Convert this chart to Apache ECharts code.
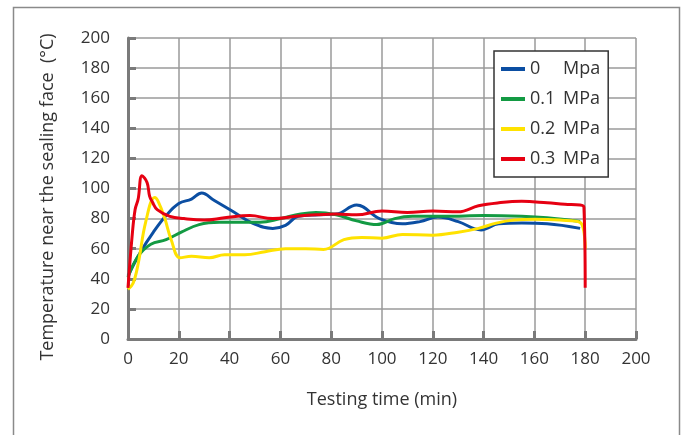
<!DOCTYPE html>
<html>
<head>
<meta charset="utf-8">
<script src="https://cdn.jsdelivr.net/npm/echarts@6/dist/echarts.min.js"></script>
<style>
  html, body { margin: 0; padding: 0; background: #fff; }
  #chart { width: 686px; height: 435px; }
</style>
</head>
<body>
<div id="chart"></div>
<script>
// Testing time (min) and temperature (°C) for each sealing pressure
const names = ['0 Mpa', '0.1 MPa', '0.2 MPa', '0.3 MPa'];
const colors = ['#0b4ea2', '#139a43', '#ffe200', '#e60012'];

const time0 = [0, 5, 10, 15, 20, 25, 29, 34, 41, 49, 57, 62, 67, 75, 82, 90, 99, 108, 115, 122, 130, 139, 146, 155, 165, 178];
const temp0 = [42, 58, 71, 82, 90, 93, 97, 92, 85, 77, 73.5, 75.5, 81.5, 82.5, 83, 89, 80, 76.5, 78, 81, 78, 72.5, 76.5, 77, 76.5, 73.5];

const time1 = [0, 4, 9, 15, 21, 28, 36, 44, 52, 60, 68, 74, 82, 90, 98, 105, 112, 125, 140, 155, 165, 178];
const temp1 = [41, 55, 63, 66, 71, 76, 77.5, 77.5, 77.5, 80, 83, 84, 82.5, 78.5, 76, 80, 81.5, 81.5, 82, 81.5, 80.5, 78];

const time2 = [0, 2, 4, 7, 10.5, 12, 14.5, 17, 20.5, 25, 32, 38, 46, 54, 62, 70, 77, 85, 92, 100, 108, 120, 130, 138, 145, 152, 160, 170, 178, 180];
const temp2 = [33, 37, 50, 78, 94, 91, 80, 66, 54, 55, 54, 56, 56, 58, 60, 60, 59.5, 66, 67.5, 67, 69.5, 69, 71, 73.5, 77, 79, 79.5, 79, 77.5, 60];

const time3 = [0, 1.6, 2.8, 4, 5.5, 7.5, 8.5, 9.6, 11.5, 16.5, 22, 30, 38, 48, 57, 66, 74, 82, 90, 100, 110, 120, 130, 138, 146, 155, 165, 172, 178, 179.5, 180];
const temp3 = [34, 68, 86, 93, 108.5, 104, 95, 91, 86, 81.5, 80, 79, 80.5, 82, 80, 81.5, 82.5, 83, 82.5, 85, 84, 85, 84.5, 88.5, 90.5, 91.5, 90.5, 89.5, 89, 87.5, 34];

const times = [time0, time1, time2, time3];
const temps = [temp0, temp1, temp2, temp3];

const xTicks = [0, 200, 20];   // min, max, interval
const yTicks = [0, 200, 20];

const zip = (xs, ys) => xs.map((x, i) => [x, ys[i]]);

const chart = echarts.init(document.getElementById('chart'), null, { renderer: 'canvas' });

const labelFont = { fontFamily: 'Open Sans', fontSize: 17, color: '#333' };

chart.setOption({
  animation: false,
  backgroundColor: '#fff',
  graphic: [{
    type: 'rect',
    shape: { x: 13.5, y: 7.5, width: 666, height: 440 },
    style: { fill: 'none', stroke: '#8a8a8a', lineWidth: 1.5 },
    z: -10
  }],
  grid: { left: 128, right: 50, top: 38, bottom: 96, containLabel: false },
  legend: {
    orient: 'vertical',
    left: 494,
    top: 51,
    padding: [8, 8, 8, 7],
    itemGap: 10,
    itemWidth: 24,
    itemHeight: 4,
    icon: 'rect',
    backgroundColor: '#fff',
    borderColor: '#333',
    borderWidth: 1.5,
    borderRadius: 0,
    data: names,
    formatter: n => {
      const parts = n.split(' ');
      return '{n|' + parts[0] + '}{u|' + parts[1] + '}';
    },
    textStyle: {
      lineHeight: 20,
      rich: {
        n: { fontFamily: 'Open Sans', fontSize: 18, color: '#333', width: 33 },
        u: { fontFamily: 'Open Sans', fontSize: 18, color: '#333' }
      }
    },
    z: 10
  },
  xAxis: {
    type: 'value',
    min: xTicks[0], max: xTicks[1], interval: xTicks[2],
    name: 'Testing time (min)',
    nameLocation: 'middle',
    nameGap: 52,
    nameTextStyle: { fontFamily: 'Open Sans', fontSize: 18, color: '#333' },
    axisLine: { show: true, lineStyle: { color: '#7a7a7a', width: 3 } },
    axisTick: { show: true, inside: true, length: 8, lineStyle: { color: '#7a7a7a', width: 3 } },
    axisLabel: Object.assign({ margin: 12 }, labelFont),
    splitLine: { show: true, lineStyle: { color: '#9a9a9a', width: 1.5 } }
  },
  yAxis: {
    type: 'value',
    min: yTicks[0], max: yTicks[1], interval: yTicks[2],
    name: 'Temperature near the sealing face  (°C)',
    nameLocation: 'middle',
    nameGap: 71,
    nameRotate: 90,
    nameTextStyle: { fontFamily: 'Open Sans', fontSize: 18, color: '#333', padding: [0, 17, 0, 0] },
    axisLine: { show: true, lineStyle: { color: '#7a7a7a', width: 3 } },
    axisTick: { show: true, inside: true, length: 8, lineStyle: { color: '#7a7a7a', width: 3 } },
    axisLabel: Object.assign({ margin: 18 }, labelFont),
    splitLine: { show: true, lineStyle: { color: '#9a9a9a', width: 1.5 } }
  },
  series: names.map((n, i) => ({
    name: n,
    type: 'line',
    data: zip(times[i], temps[i]),
    showSymbol: false,
    symbol: 'none',
    smooth: 0.4,
    color: colors[i],
    lineStyle: { color: colors[i], width: 3 },
    z: 2 + i
  }))
});
</script>
</body>
</html>
